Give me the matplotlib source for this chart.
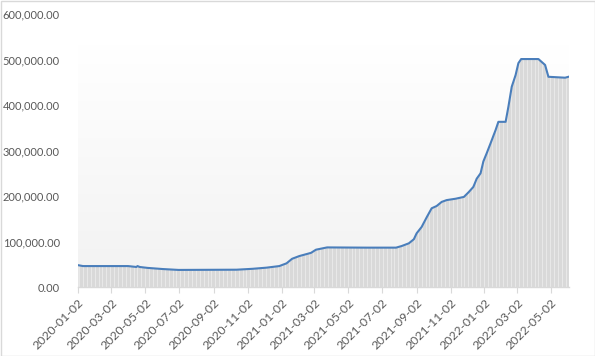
import numpy as np
import pandas as pd
import matplotlib
matplotlib.use("Agg")
import matplotlib.pyplot as plt
import matplotlib.dates as mdates
from matplotlib.patches import Rectangle
from matplotlib.ticker import FuncFormatter
import datetime as dt

# Key points (date, value)
dates = ["2020-01-02", "2020-01-11", "2020-04-01", "2020-04-16", "2020-04-18", "2020-04-22",
         "2020-05-06", "2020-06-02", "2020-07-01", "2020-10-13", "2020-11-11", "2020-12-06",
         "2020-12-29", "2021-01-11", "2021-01-21", "2021-02-03", "2021-02-24", "2021-03-05",
         "2021-03-25", "2021-06-03", "2021-07-27", "2021-08-06", "2021-08-19", "2021-08-28",
         "2021-09-02", "2021-09-11", "2021-09-20", "2021-09-29", "2021-10-08", "2021-10-17",
         "2021-10-26", "2021-11-11", "2021-11-26", "2021-12-05", "2021-12-13", "2021-12-19",
         "2021-12-26", "2021-12-31", "2022-01-06", "2022-01-13", "2022-01-22", "2022-01-27",
         "2022-02-09", "2022-02-14", "2022-02-20", "2022-02-27", "2022-03-04", "2022-03-09",
         "2022-04-09", "2022-04-21", "2022-04-27", "2022-05-27", "2022-06-02"]
values = [48000, 46000, 46000, 44000, 46000, 44000,
          42000, 39500, 37500, 38000, 40000, 42500,
          46000, 52000, 62000, 68000, 75000, 82000,
          87000, 86500, 86500, 90000, 96000, 105000,
          118000, 132000, 153000, 173000, 178000, 187000,
          191000, 194000, 198000, 209000, 220000, 238000,
          250000, 276000, 294000, 316000, 345000, 363000,
          363000, 396000, 440000, 466000, 492000, 501000,
          501000, 488000, 462000, 460000, 462000]

xtick_labels = ["2020-01-02", "2020-03-02", "2020-05-02", "2020-07-02", "2020-09-02",
                "2020-11-02", "2021-01-02", "2021-03-02", "2021-05-02", "2021-07-02",
                "2021-09-02", "2021-11-02", "2022-01-02", "2022-03-02", "2022-05-02"]
yticks = [0, 100000, 200000, 300000, 400000, 500000, 600000]

plt.rcParams['font.family'] = ['Lato', 'DejaVu Sans']

x = mdates.date2num([dt.datetime.strptime(d, "%Y-%m-%d") for d in dates])
y = np.array(values, dtype=float)

fig = plt.figure(figsize=(5.95, 3.56), dpi=100)
fig.patch.set_facecolor("white")
fig.patches.append(Rectangle((0.5/595, 0.5/356), 1 - 1/595, 1 - 1/356, transform=fig.transFigure,
                             fill=False, edgecolor="#d9d9d9", linewidth=1.0))

ax = fig.add_axes([78/595, 1 - 287/356, (569 - 78)/595, (287 - 14)/356])
ax.set_facecolor("none")

start = dt.datetime(2020, 1, 2)
end = dt.datetime(2022, 6, 3)
xmin = mdates.date2num(start)
xmax = mdates.date2num(end)

# gradient background
grad = np.linspace(0, 1, 256).reshape(-1, 1)
cmap = matplotlib.colors.LinearSegmentedColormap.from_list("g", ["#f2f2f2", "#ffffff"])
ax.imshow(grad, aspect="auto", cmap=cmap, origin="lower",
          extent=[xmin, xmax, 0, 530000], zorder=0)

fill = ax.fill_between(x, 0, y, color="#d9d9d9", linewidth=0, zorder=1)
ax.plot(x, y, color="#4a7ebb", linewidth=1.5, zorder=4, solid_joinstyle="round")

# weekly stripes inside the area (weekend gaps between daily columns)
week_pos = mdates.date2num(pd.date_range(start, end, freq="W-SAT").to_pydatetime())
stripes = ax.vlines(week_pos, 0, 600000, colors="white", linewidth=0.5, alpha=0.6, zorder=2)
stripes.set_clip_path(fill.get_paths()[0], ax.transData)

ax.set_xlim(xmin, xmax)
ax.set_ylim(0, 600000)

tick_pos = mdates.date2num([dt.datetime.strptime(d, "%Y-%m-%d") for d in xtick_labels])
ax.set_xticks(tick_pos)
ax.set_xticklabels(xtick_labels, rotation=45, ha="right", rotation_mode="anchor",
                   fontsize=8.8, color="#595959")
ax.set_yticks(yticks)
ax.yaxis.set_major_formatter(FuncFormatter(lambda v, p: f"{v:,.2f}"))
ax.tick_params(axis="y", length=0, labelsize=8, labelcolor="#595959", pad=13)
ax.tick_params(axis="x", which="major", length=4, color="#d9d9d9", pad=3)

for s in ["top", "right", "left"]:
    ax.spines[s].set_visible(False)
ax.spines["bottom"].set_color("#d9d9d9")
ax.spines["bottom"].set_linewidth(1.0)
ax.spines["bottom"].set_zorder(5)

fig.savefig("out.png", dpi=100)
